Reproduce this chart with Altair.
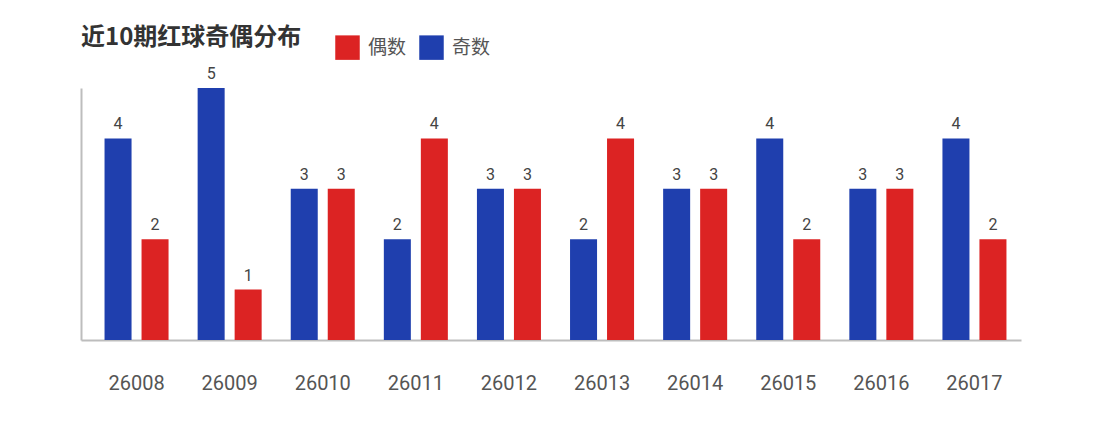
import altair as alt
import pandas as pd

periods = ["26008", "26009", "26010", "26011", "26012", "26013", "26014", "26015", "26016", "26017"]
odd_counts = [4, 5, 3, 2, 3, 2, 3, 4, 3, 4]
even_counts = [2, 1, 3, 4, 3, 4, 3, 2, 3, 2]
series = ["偶数", "奇数"]
colors = ["#dc2323", "#1f3fae"]

rows = []
for p, o, e in zip(periods, odd_counts, even_counts):
    rows.append({"period": p, "type": "奇数", "count": o})
    rows.append({"period": p, "type": "偶数", "count": e})
df = pd.DataFrame(rows)

FONT = "Roboto, Noto Sans CJK SC, sans-serif"

base = alt.Chart(df).encode(
    x=alt.X("period:N", sort=periods,
            scale=alt.Scale(paddingInner=0, paddingOuter=0.0483, align=1),
            axis=alt.Axis(title=None, ticks=False, grid=False, domainColor="#bdbdbd",
                          domainWidth=2, labelPadding=33, labelFontSize=20,
                          labelColor="#555555", labelFont=FONT, labelAngle=0)),
    xOffset=alt.XOffset("type:N", sort=["奇数", "偶数"],
                        scale=alt.Scale(paddingInner=0.27, paddingOuter=0.393)),
    y=alt.Y("count:Q", scale=alt.Scale(domain=[0, 5], nice=False),
            axis=alt.Axis(title=None, labels=False, ticks=False, grid=False,
                          domainColor="#bdbdbd", domainWidth=2)),
)

bars = base.mark_bar().encode(
    color=alt.Color("type:N", scale=alt.Scale(domain=series, range=colors),
                    legend=alt.Legend(title=None, orient="none", direction="horizontal",
                                      legendX=254, legendY=-53, symbolType="square",
                                      symbolSize=600, symbolStrokeWidth=0,
                                      labelFontSize=19, labelColor="#555555",
                                      labelFont=FONT, labelOffset=8, columnPadding=12,
                                      padding=0))
)

labels = base.mark_text(baseline="bottom", dy=-6, fontSize=16, color="#444444", font=FONT).encode(
    text="count:Q"
)

chart = (bars + labels).properties(
    width=940, height=252,
    background="#ffffff",
    title=alt.TitleParams("近10期红球奇偶分布", anchor="start", frame="group",
                          fontSize=24, fontWeight="bold", color="#333333",
                          font="Noto Sans CJK SC", offset=-15),
    autosize=alt.AutoSizeParams(type="none"),
    padding={"left": 73, "top": 80, "right": 64, "bottom": 75},
).configure_view(stroke=None, strokeWidth=0)

chart.save("out.html", embed_options={"renderer": "svg", "actions": False})
